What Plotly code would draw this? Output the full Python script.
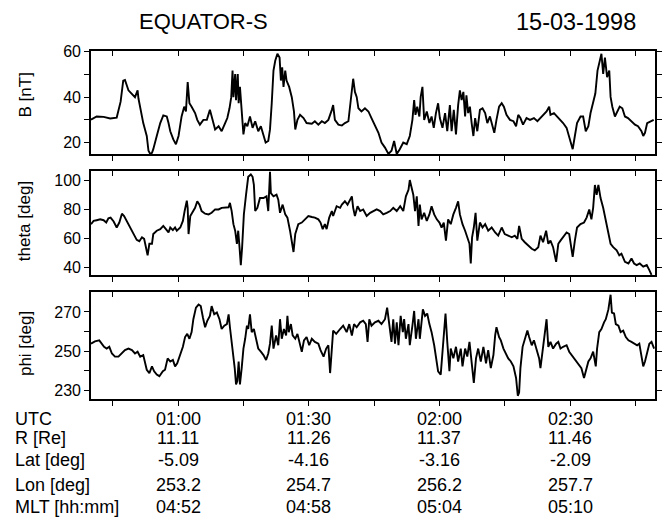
"""EQUATOR-S magnetic field overview, 15-03-1998: B, theta and phi with orbit table."""

import plotly.graph_objects as go

# time axis in minutes after 00:00 UTC
b_time = [40.0, 41.3, 42.9, 44.4, 45.9, 46.8, 47.4, 47.8, 48.6, 49.4, 50.1, 50.7, 50.9, 52.0, 52.8,
          53.2, 53.6, 54.0, 54.3, 55.1, 55.9, 56.6, 57.4, 57.8, 58.2, 58.9, 59.5, 60.1, 60.8, 61.4,
          61.8, 62.2, 62.6, 63.1, 63.9, 64.4, 65.0, 65.8, 66.6, 67.3, 68.0, 68.5, 69.3, 70.0, 70.8,
          71.3, 71.8, 72.2, 72.5, 72.7, 73.1, 73.3, 73.7, 73.9, 74.2, 74.6, 75.0, 75.4, 75.9, 76.5,
          77.1, 77.7, 78.4, 79.0, 79.6, 80.1, 80.7, 81.1, 81.5, 81.9, 82.3, 82.8, 83.3, 83.6, 83.9,
          84.2, 84.6, 84.9, 85.5, 86.1, 86.6, 86.9, 87.4, 88.0, 88.8, 89.5, 90.7, 91.4, 92.2, 93.0,
          93.7, 94.5, 95.3, 95.6, 96.0, 96.8, 97.6, 98.3, 99.1, 99.6, 100.2, 100.6, 101.0, 101.4,
          102.1, 102.9, 103.7, 104.4, 105.2, 106.0, 106.7, 107.5, 108.3, 109.0, 109.6, 110.2, 110.9,
          111.7, 112.5, 113.2, 113.8, 114.2, 114.5, 114.9, 115.4, 115.7, 116.1, 116.5, 117.1, 117.7,
          118.2, 118.7, 119.2, 119.7, 120.1, 120.7, 121.3, 121.8, 122.4, 122.8, 123.3, 123.8, 124.3,
          124.7, 125.1, 125.5, 125.9, 126.2, 126.6, 127.0, 127.4, 127.8, 128.2, 128.7, 129.3, 129.9,
          130.5, 131.0, 131.6, 132.2, 132.6, 133.1, 133.7, 134.3, 134.8, 135.4, 136.2, 137.0, 137.6,
          138.1, 138.6, 139.2, 140.0, 140.8, 141.7, 142.5, 143.2, 144.0, 144.6, 145.2, 145.5, 146.3,
          147.1, 147.8, 148.4, 149.2, 150.0, 150.6, 151.1, 151.6, 152.4, 153.0, 153.6, 154.2, 154.7,
          155.3, 155.8, 156.3, 156.8, 157.2, 157.6, 158.0, 158.5, 159.0, 159.3, 159.7, 160.3, 160.8,
          161.4, 162.0, 162.6, 163.3, 164.1, 164.9, 165.6, 166.4, 166.8, 167.2, 167.7, 168.5, 169.2]
b_nt = [30.1, 31.5, 31.3, 30.6, 31.0, 38.0, 47.3, 47.6, 43.0, 41.6, 40.0, 43.0, 39.4, 28.6, 22.9,
        16.4, 15.0, 15.5, 17.1, 22.9, 28.6, 32.0, 31.5, 28.6, 25.0, 21.4, 19.3, 22.9, 31.5, 35.8,
        33.7, 46.6, 37.3, 35.8, 33.0, 30.0, 27.9, 30.0, 30.0, 34.4, 28.6, 25.8, 27.2, 25.0, 28.6,
        30.8, 35.1, 40.0, 51.7, 40.0, 50.2, 38.7, 50.2, 37.3, 44.5, 33.0, 23.6, 28.6, 27.2, 31.5,
        26.5, 29.4, 25.0, 27.2, 22.9, 20.0, 20.7, 25.8, 37.3, 51.7, 56.0, 59.1, 57.4, 47.3, 53.1,
        44.5, 51.7, 47.3, 44.5, 40.0, 33.7, 25.8, 30.0, 32.2, 30.8, 28.6, 28.3, 29.4, 27.9, 29.4,
        28.6, 30.0, 34.4, 36.5, 30.0, 27.9, 27.5, 28.6, 29.4, 37.3, 48.1, 42.3, 40.1, 35.1,
        33.7, 35.1, 33.7, 30.8, 27.9, 24.3, 20.0, 17.8, 15.0, 16.4, 20.7, 15.0, 17.1,
        20.0, 19.3, 22.9, 30.0, 38.7, 32.2, 35.8, 31.5, 40.1, 44.5, 30.0, 33.7, 28.6,
        31.5, 26.5, 33.0, 37.3, 30.8, 26.5, 33.0, 25.0, 36.5, 25.0, 34.4, 23.6, 36.5,
        43.0, 38.7, 42.3, 31.5, 40.8, 33.0, 35.8, 28.6, 22.9, 30.8, 25.0, 34.4, 35.1,
        33.0, 28.6, 31.5, 27.2, 24.3, 30.0, 35.8, 37.3, 35.8, 32.2, 30.0, 29.4, 27.2,
        32.2, 30.8, 27.9, 30.8, 30.0, 30.8, 29.4, 30.8, 32.2, 33.7, 35.8, 32.2, 33.0,
        31.5, 30.0, 28.6, 26.5, 21.4, 17.1, 22.9, 28.6, 31.5, 31.5, 25.0, 27.2, 33.0,
        38.0, 41.6, 51.7, 55.3, 59.1, 50.2, 57.4, 48.8, 51.7, 40.1, 35.8, 31.5, 33.7,
        35.8, 35.1, 31.5, 30.8, 29.4, 27.9, 27.2, 25.0, 22.9, 24.3, 28.6, 29.4, 30.0]

theta_time = [40.0, 40.6, 41.3, 42.1, 42.9, 43.5, 44.0, 44.5, 45.2, 45.9, 46.5, 47.1, 47.6, 48.2,
              49.0, 49.7, 50.5, 51.1, 51.7, 52.2, 52.7, 53.0, 53.4, 54.0, 54.3, 55.1, 55.9, 56.6,
              57.2, 57.8, 58.2, 58.8, 59.3, 59.7, 60.5, 61.1, 61.5, 62.0, 62.2, 62.4, 62.8, 63.4,
              63.9, 64.4, 64.9, 65.4, 66.2, 67.0, 67.7, 68.5, 69.3, 70.0, 70.8, 71.6, 71.9, 72.3,
              72.7, 73.1, 73.5, 73.8, 74.1, 74.4, 74.7, 75.1, 75.6, 76.1, 76.7, 77.1, 77.4, 77.7,
              78.2, 78.8, 79.6, 80.3, 80.7, 81.1, 81.3, 81.9, 82.6, 83.0, 83.4, 84.0, 84.6, 85.1,
              85.7, 86.2, 86.5, 86.9, 87.6, 88.4, 89.2, 89.9, 90.7, 91.4, 92.2, 92.7, 93.2, 93.7,
              94.1, 94.7, 95.3, 95.6, 96.4, 97.2, 97.6, 98.3, 98.9, 99.5, 99.9, 100.2, 100.6,
              101.2, 101.8, 102.5, 103.3, 104.1, 104.8, 105.6, 106.4, 107.1, 107.9, 108.7, 109.4,
              110.2, 111.0, 111.7, 112.3, 112.9, 113.2, 113.6, 114.0, 114.4, 114.8, 115.2, 115.5,
              115.9, 116.5, 117.1, 117.7, 118.2, 118.8, 119.4, 120.0, 120.5, 121.0, 121.5, 122.0,
              122.6, 123.2, 123.8, 124.3, 124.7, 125.3, 125.9, 126.4, 126.9, 127.2, 127.5, 127.9,
              128.3, 128.7, 129.3, 129.9, 130.5, 131.2, 132.0, 132.8, 133.5, 134.3, 135.0, 135.8,
              136.6, 137.3, 137.9, 138.3, 138.9, 139.6, 140.4, 141.2, 141.9, 142.7, 143.2, 143.8,
              144.5, 145.0, 145.5, 146.1, 146.8, 147.3, 147.8, 148.4, 149.2, 149.8, 150.1, 150.6,
              151.1, 151.6, 152.4, 153.2, 153.8, 154.4, 154.9, 155.3, 155.7, 156.1, 156.5, 157.0,
              157.6, 158.2, 158.8, 159.3, 159.9, 160.7, 161.3, 161.8, 162.6, 163.4, 164.1, 164.7,
              165.3, 166.0, 166.8, 167.6, 168.2, 168.7]
theta_deg = [69.7, 71.9, 72.4, 73.0, 72.4, 70.8, 73.7, 74.2, 71.5, 67.4, 70.8, 76.9, 75.3, 71.9,
             66.3, 62.5, 58.9, 58.0, 60.7, 59.6, 51.7, 48.3, 56.2, 56.2, 62.9, 65.2, 66.3, 68.5,
             66.3, 64.0, 67.4, 65.6, 67.4, 65.2, 67.4, 71.9, 78.7, 85.8, 80.9, 62.9, 75.3, 78.7,
             80.9, 85.4, 83.1, 78.7, 76.9, 76.4, 77.5, 79.8, 79.8, 80.9, 81.3, 81.3, 84.3, 78.7,
             69.7, 65.2, 56.2, 65.2, 53.9, 41.6, 53.9, 76.4, 89.9, 102.2, 103.8, 102.2, 96.6, 78.7,
             80.9, 87.6, 87.6, 88.8, 78.7, 105.6, 91.0, 88.8, 89.9, 86.5, 77.5, 83.1, 76.4, 74.2,
             65.2, 53.9, 50.6, 62.9, 69.7, 70.8, 73.0, 75.3, 74.6, 74.2, 73.0, 70.8, 66.3, 69.7,
             66.3, 74.2, 78.7, 75.3, 82.0, 80.9, 83.1, 85.4, 83.1, 86.5, 88.8, 80.9, 75.3,
             82.0, 78.7, 79.8, 75.3, 77.5, 78.7, 79.8, 78.7, 76.4, 77.5, 78.7, 80.9,
             78.7, 82.0, 78.7, 88.8, 93.3, 100.0, 94.4, 89.9, 78.7, 88.8, 68.5, 83.1,
             73.0, 77.5, 71.9, 76.4, 82.0, 76.4, 73.0, 70.8, 67.4, 70.8, 58.4, 73.0,
             69.7, 76.4, 80.9, 85.4, 76.4, 69.7, 65.2, 60.7, 56.2, 42.7, 60.7, 67.4,
             77.5, 58.4, 70.8, 67.4, 69.7, 65.2, 67.4, 64.0, 61.8, 67.4, 62.9, 61.8,
             60.7, 61.8, 59.6, 68.5, 59.6, 57.3, 55.1, 52.8, 51.7, 53.9, 61.8, 57.3,
             65.2, 56.2, 58.4, 53.9, 43.8, 56.2, 58.4, 60.7, 64.0, 62.9, 56.2, 47.2,
             58.4, 67.4, 69.7, 70.8, 74.2, 79.8, 73.0, 80.9, 96.6, 89.9, 96.6, 87.6,
             80.9, 71.9, 64.0, 56.2, 53.9, 51.7, 48.3, 49.4, 43.8, 42.7, 46.1, 42.7,
             41.6, 42.7, 40.5, 41.6, 38.2, 34.8]

phi_time = [40.0, 40.9, 41.9, 42.5, 43.0, 43.6, 44.2, 44.8, 45.5, 46.3, 47.1, 47.8, 48.6, 49.4,
            50.1, 50.7, 51.3, 52.0, 52.8, 53.4, 54.0, 54.5, 55.1, 55.7, 56.5, 57.0, 57.6, 58.2,
            58.8, 59.3, 59.8, 60.5, 61.1, 61.6, 62.1, 62.6, 63.1, 63.5, 64.1, 64.7, 65.2, 65.7,
            66.2, 66.7, 67.3, 67.7, 68.3, 68.9, 69.5, 70.0, 70.6, 71.2, 71.6, 71.9, 72.3, 72.7,
            73.0, 73.3, 73.6, 73.9, 74.2, 74.6, 75.0, 75.4, 75.8, 76.1, 76.5, 76.9, 77.4, 77.9,
            78.4, 79.0, 79.6, 80.2, 80.7, 81.1, 81.5, 81.9, 82.5, 83.0, 83.4, 83.8, 84.3, 84.8,
            85.1, 85.4, 85.9, 86.3, 86.9, 87.4, 88.0, 88.4, 88.9, 89.5, 90.1, 90.7, 91.4, 92.2,
            92.7, 93.4, 94.0, 94.5, 94.9, 95.3, 95.6, 96.3, 96.8, 97.2, 97.9, 98.7, 99.3, 99.9,
            100.4, 101.0, 101.8, 102.5, 103.1, 103.5, 103.9, 104.4, 105.2, 106.0, 106.7, 107.5,
            108.0, 108.5, 109.0, 109.4, 109.8, 110.2, 110.6, 111.1, 111.6, 111.9, 112.3, 112.9,
            113.2, 113.8, 114.2, 114.6, 115.2, 115.5, 116.2, 116.7, 117.2, 117.7, 118.2, 118.8,
            119.2, 119.7, 120.3, 120.7, 121.0, 121.4, 121.8, 122.3, 122.6, 123.2, 123.8, 124.3,
            124.9, 125.3, 125.9, 126.4, 126.9, 127.4, 127.9, 128.4, 128.9, 129.5, 130.1, 130.7,
            131.2, 131.8, 132.4, 132.8, 133.1, 133.7, 134.1, 134.7, 135.3, 135.8, 136.4, 137.0,
            137.6, 138.0, 138.3, 138.6, 139.1, 139.6, 140.2, 140.6, 141.2, 141.7, 142.3, 142.9,
            143.2, 143.7, 144.2, 144.6, 145.0, 145.5, 146.1, 146.8, 147.3, 147.8, 148.4, 149.2,
            149.8, 150.4, 151.1, 151.9, 152.6, 153.2, 153.6, 154.2, 154.7, 155.3, 155.9, 156.2,
            156.7, 157.2, 157.8, 158.2, 158.8, 159.3, 159.6, 160.1, 160.5, 161.1, 161.6, 162.2,
            162.8, 163.4, 164.1, 164.9, 165.4, 165.9, 166.4, 166.8, 167.2, 167.7, 168.2, 168.7,
            169.3]
phi_deg = [253.8, 255.0, 255.5, 253.8, 252.2, 251.3, 252.2, 248.8, 247.2, 247.2, 248.8, 250.5,
           251.3, 250.5, 248.8, 249.7, 247.2, 248.0, 240.5, 238.8, 242.2, 239.7, 238.0, 237.2,
           239.7, 240.5, 246.3, 244.7, 245.5, 242.2, 243.8, 248.0, 252.2, 257.2, 258.8, 256.3,
           259.7, 266.3, 272.2, 273.8, 273.0, 267.2, 262.2, 265.5, 268.0, 273.0, 268.8, 269.7,
           266.3, 261.3, 263.0, 263.8, 268.8, 262.2, 254.7, 248.0, 241.3, 233.0, 234.7, 244.7,
           233.0, 241.3, 251.3, 256.3, 263.0, 261.3, 268.8, 259.7, 261.3, 256.3, 251.3, 249.7,
           248.0, 245.5, 248.8, 253.8, 263.0, 251.3, 258.0, 253.0, 266.3, 256.3, 261.3, 258.0,
           268.0, 259.7, 263.8, 258.0, 256.3, 258.8, 253.8, 249.7, 255.5, 257.2, 253.0, 256.3,
           254.7, 253.8, 250.5, 247.2, 251.3, 253.0, 238.8, 251.3, 260.5, 258.8, 260.5, 261.3,
           263.0, 259.7, 263.8, 258.0, 263.8, 262.2, 264.7, 265.5, 263.8, 254.7, 266.3, 263.0,
           264.7, 265.5, 263.8, 266.3, 272.2, 263.0, 254.7, 266.3, 253.8, 264.7, 253.0, 268.0,
           259.7, 266.3, 256.3, 263.8, 253.0, 263.0, 270.5, 256.3, 266.3, 256.3, 271.3, 268.0,
           269.2, 263.8, 259.7, 253.0, 246.3, 239.7, 238.0, 251.3, 258.0, 269.2, 254.7, 239.7,
           251.3, 246.3, 252.2, 244.7, 251.3, 242.2, 251.3, 247.2, 254.7, 244.7, 233.8, 246.3,
           251.3, 244.7, 252.2, 243.8, 250.5, 241.3, 248.0, 258.0, 262.2, 257.2, 255.5, 251.3,
           248.8, 246.3, 244.7, 242.2, 236.3, 227.2, 228.8, 241.3, 252.2, 255.5, 260.5, 257.2,
           253.0, 255.5, 250.5, 246.3, 241.3, 251.3, 258.0, 266.3, 252.2, 254.7, 251.3, 253.8,
           254.7, 251.3, 252.2, 253.0, 249.7, 248.0, 245.5, 243.8, 241.3, 236.3, 239.7, 244.7,
           246.3, 249.7, 242.2, 251.3, 259.7, 261.3, 264.7, 266.3, 271.3, 278.8, 269.7, 269.2,
           263.8, 263.0, 259.7, 260.5, 257.2, 255.5, 254.7, 253.8, 253.0, 253.8, 247.2, 242.2,
           244.7, 249.7, 253.8, 254.7, 251.3]

# orbit table under the plots
utc_minutes = [60, 90, 120, 150]
utc_labels = ["01:00", "01:30", "02:00", "02:30"]
r_re = ["11.11", "11.26", "11.37", "11.46"]
lat_deg = ["-5.09", "-4.16", "-3.16", "-2.09"]
lon_deg = ["253.2", "254.7", "256.2", "257.7"]
mlt = ["04:52", "04:58", "05:04", "05:10"]
row_names = ["UTC", "R [Re]", "Lat [deg]", "Lon [deg]", "MLT [hh:mm]"]

W, H = 672, 519
FONT = "Liberation Sans, Arial, Helvetica, sans-serif"
x_ticks = [45, 60, 75, 90, 105, 120, 135, 150, 165]
x_range = [40, 169.5]

# panel boxes in pixels: (top, bottom)
panels = [(44, 149), (166, 272), (289, 398)]
x_left, x_right = 91, 655

fig = go.Figure()
series = [(b_time, b_nt), (theta_time, theta_deg), (phi_time, phi_deg)]
for i, (t, v) in enumerate(series, start=1):
    suffix = "" if i == 1 else str(i)
    fig.add_trace(go.Scatter(x=t, y=v, mode="lines", line=dict(color="black", width=1.9),
                             xaxis="x" + suffix, yaxis="y" + suffix, showlegend=False))
    # empty trace so the inward top tick axis gets drawn
    fig.add_trace(go.Scatter(x=[], y=[], xaxis="x" + str(i + 3), yaxis="y" + suffix,
                             showlegend=False))

y_specs = [
    dict(range=[14.8, 60.2], tickvals=[20, 30, 40, 50, 60], ticktext=["20", "", "40", "", "60"]),
    dict(range=[34.6, 106.1], tickvals=[40, 60, 80, 100], ticktext=["40", "60", "80", "100"]),
    dict(range=[225.5, 280.2], tickvals=[230, 240, 250, 260, 270],
         ticktext=["230", "", "250", "", "270"]),
]

layout = dict(
    width=W, height=H, autosize=False,
    margin=dict(l=0, r=0, t=0, b=0),
    paper_bgcolor="white", plot_bgcolor="white",
    font=dict(family=FONT, size=16, color="black"),
    showlegend=False,
)
axis_common = dict(showgrid=False, zeroline=False, linecolor="black", linewidth=1.6,
                   tickcolor="black", tickwidth=1.4, ticklen=5)
xdom = [x_left / W, x_right / W]
for i, ((top, bottom), ys) in enumerate(zip(panels, y_specs), start=1):
    suffix = "" if i == 1 else str(i)
    ydom = [1 - bottom / H, 1 - top / H]
    layout["xaxis" + suffix] = dict(axis_common, domain=xdom, range=x_range, tickvals=x_ticks,
                                    showticklabels=False, ticks="outside", showline=True,
                                    mirror=True, anchor="y" + suffix)
    layout["yaxis" + suffix] = dict(axis_common, domain=ydom, range=ys["range"],
                                    tickvals=ys["tickvals"], ticktext=ys["ticktext"],
                                    ticks="outside", showline=True, mirror="ticks",
                                    anchor="x" + suffix, tickfont=dict(size=16))
    layout["xaxis" + str(i + 3)] = dict(axis_common, range=x_range, tickvals=x_ticks,
                                        showticklabels=False, ticks="inside", showline=False,
                                        overlaying="x" + suffix, side="top",
                                        anchor="y" + suffix)
fig.update_layout(**layout)

# header
fig.add_annotation(text="EQUATOR-S", x=137 / W, y=1 - 14 / H, xref="paper", yref="paper",
                   xanchor="left", yanchor="middle", showarrow=False, font=dict(size=22))
fig.add_annotation(text="15-03-1998", x=638 / W, y=1 - 14 / H, xref="paper", yref="paper",
                   xanchor="right", yanchor="middle", showarrow=False, font=dict(size=23.5))

# rotated axis titles
for text, xc, yc in [("B [nT]", 25, 89), ("theta [deg]", 24, 217), ("phi [deg]", 25, 342)]:
    fig.add_annotation(text=text, x=xc / W, y=1 - yc / H, xref="paper", yref="paper",
                       textangle=-90, showarrow=False, xanchor="center", yanchor="middle",
                       font=dict(size=17))

# orbit table
row_y = [418, 438, 460, 485, 508]
rows = [utc_labels, r_re, lat_deg, lon_deg, mlt]
for name, yc, vals in zip(row_names, row_y, rows):
    fig.add_annotation(text=name, x=13 / W, y=1 - yc / H, xref="paper", yref="paper",
                       xanchor="left", yanchor="middle", showarrow=False, font=dict(size=18))
    for m, v in zip(utc_minutes, vals):
        fig.add_annotation(text=v, x=m, y=1 - yc / H, xref="x3", yref="paper",
                           xanchor="center", yanchor="middle", showarrow=False,
                           font=dict(size=18))

# the page body has a default 8px margin; drop it so the figure fills the window
fig.write_html("out.html", config={"displayModeBar": False},
               post_script="document.body.style.margin='0px';")
